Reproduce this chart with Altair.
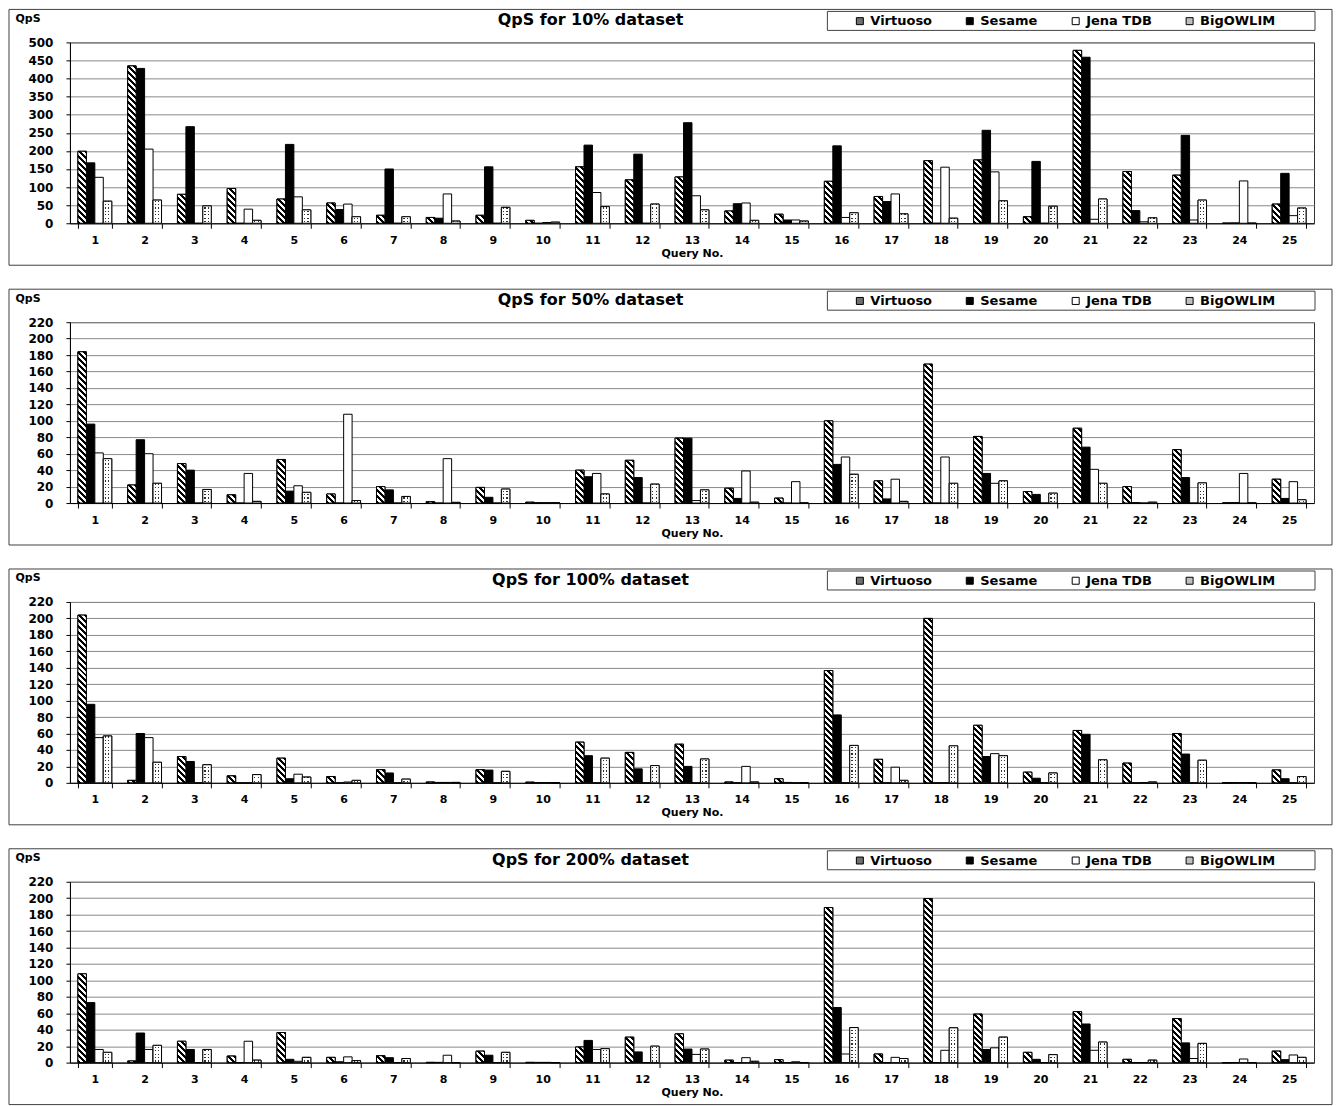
import altair as alt
import pandas as pd

queries = list(range(1, 26))
series = ["Virtuoso", "Sesame", "Jena TDB", "BigOWLIM"]

# ---- QpS for 10% dataset
virtuoso_10 = [199, 435, 80, 96, 67, 56, 22, 16, 22, 8, 156, 120, 128, 34, 25, 116, 74, 173, 175, 18, 478, 143, 133, 0, 53]
sesame_10 = [167, 428, 267, 0, 218, 38, 150, 14, 156, 0, 216, 191, 278, 54, 9, 214, 60, 0, 257, 171, 459, 35, 243, 1, 138]
jena_10 = [127, 205, 0, 39, 73, 53, 0, 81, 0, 2, 85, 0, 76, 56, 9, 16, 81, 155, 142, 0, 11, 4, 9, 117, 21]
bigowlim_10 = [61, 64, 48, 8, 37, 18, 18, 6, 44, 3, 46, 53, 37, 8, 6, 29, 26, 14, 62, 47, 67, 15, 64, 0, 42]

# ---- QpS for 50% dataset
virtuoso_50 = [184, 22, 48, 10, 53, 11, 20, 1.6, 19, 1, 40, 52, 79, 18, 6, 100, 27, 169, 81, 14, 91, 20, 65, 0, 29]
sesame_50 = [96, 77, 40, 0, 14.5, 0, 16, 0, 7, 0.5, 32, 31, 79, 5.6, 0, 47, 5, 0, 36, 10.5, 68, 0.5, 31, 0.5, 5.6]
jena_50 = [61, 60, 0, 36, 21, 108, 0, 54, 0, 0.5, 36, 0, 3, 39, 26, 56, 29, 56, 24, 0, 41, 0, 0, 36, 26]
bigowlim_50 = [54, 24, 16.5, 2, 13, 3, 8, 0.8, 17, 0.5, 11, 23, 16, 1, 0, 35, 2, 24, 27, 12, 24, 1, 24.5, 0, 4]

# ---- QpS for 100% dataset
virtuoso_100 = [204, 3, 32, 8.5, 30, 7.7, 16, 1, 16, 0.8, 49.5, 37, 47, 1, 5, 136.6, 28.6, 200, 70, 13, 63.7, 24, 60, 0.3, 15.7]
sesame_100 = [95.5, 60, 26, 0, 5, 0, 12, 0.5, 15.5, 0.3, 33, 17, 20, 0, 0.5, 82.6, 0, 0, 32, 5.6, 59, 0, 35, 0.3, 5]
jena_100 = [55, 55, 0, 0, 10.5, 1, 0, 0.5, 0, 0.3, 0, 0, 0, 20, 0, 0, 19, 0, 35.5, 0, 0, 0.3, 0, 0.3, 0]
bigowlim_100 = [57, 25, 22, 10, 7, 3, 4.5, 0.5, 14, 0, 30, 21, 29, 1, 0, 45.5, 3, 45, 33, 12, 28, 1, 27.5, 0, 7.6]

# ---- QpS for 200% dataset
virtuoso_200 = [108, 2, 26, 8, 36.6, 6.4, 8.4, 0.3, 14, 0.3, 19, 31, 35, 3, 3.6, 188.6, 10.5, 199.6, 59, 12.5, 62, 4, 53.6, 0, 14]
sesame_200 = [73, 36, 16, 0, 4, 1, 6, 0.3, 9, 0.3, 27, 13, 16.5, 0, 0, 67, 0, 0, 16, 4, 47, 0, 24, 0, 3.6]
jena_200 = [16, 16, 0, 26, 1.6, 7, 0, 9, 0, 0.3, 16, 0, 10, 6, 1, 10.5, 6.4, 15, 18, 0, 15, 0, 5, 4.4, 9.3]
bigowlim_200 = [12.5, 21, 16, 3, 6.4, 2.4, 5, 0, 12.5, 0, 17, 20, 16.5, 1.6, 0, 42.6, 5, 42.3, 31, 9.7, 25, 3, 23.4, 0, 6.4]

panels = [
    ("QpS for 10% dataset", 500, 50, [virtuoso_10, sesame_10, jena_10, bigowlim_10]),
    ("QpS for 50% dataset", 220, 20, [virtuoso_50, sesame_50, jena_50, bigowlim_50]),
    ("QpS for 100% dataset", 220, 20, [virtuoso_100, sesame_100, jena_100, bigowlim_100]),
    ("QpS for 200% dataset", 220, 20, [virtuoso_200, sesame_200, jena_200, bigowlim_200]),
]

FONT = "DejaVu Sans"
W, H = 1245, 181
P_IN, P_OUT = 0.32, 0.16
BW = W / 25 * (1 - P_IN) / 4  # pixel width of one bar


def stops_literal(period, d0, d1, length, dark, light, start=0.0):
    st = [(0.0, light)]
    k = 0
    while True:
        a = (start + k * period + d0) / length
        b = (start + k * period + d1) / length
        if a >= 1:
            break
        b = min(b, 1.0)
        st += [(a, light), (a, dark), (b, dark), (b, light)]
        k += 1
    st.append((1.0, light))
    return "[" + ",".join("{offset:%.5f,color:'%s'}" % (o, c) for o, c in st) + "]"


HP = 195.0   # hatch gradient length (px, in x-y measure)
DL = 190.0   # dot stripe gradient length (px)
HATCH_STOPS = stops_literal(6.0, 0.0, 3.0, HP, "#000000", "#ffffff")
DOT_STOPS = stops_literal(3.4, 1.0, 2.2, DL, "#303030", "#ffffff")

# vertical white columns with transparent gaps (make dots from stripes)
col_stops = [{"offset": 0.0, "color": "#ffffff"}]
xpos = 1.6
while xpos + 1.2 < BW:
    a, b = xpos / BW, (xpos + 1.2) / BW
    col_stops += [{"offset": a, "color": "#ffffff"}, {"offset": a, "color": "rgba(255,255,255,0)"},
                  {"offset": b, "color": "rgba(255,255,255,0)"}, {"offset": b, "color": "#ffffff"}]
    xpos += 3.4
col_stops.append({"offset": 1.0, "color": "#ffffff"})
COL_GRAD = {"gradient": "linear", "x1": 0, "y1": 0.5, "x2": 1, "y2": 0.5, "stops": col_stops}


def panel(title, ymax, ystep, vlists):
    rows = []
    for s, arr in zip(series, vlists):
        for q, v in zip(queries, arr):
            rows.append({"Query": q, "Server": s, "QpS": v})
    df = pd.DataFrame(rows)

    pxu = H / ymax
    h = f"max(datum.QpS*{pxu:.6f},0.5)"
    d = f"({BW * BW:.5f}+{h}*{h})"
    hatch_expr = ("{gradient:'linear',x1:0,y1:1,x2:" + f"{HP}*{BW:.5f}/{d}" +
                  ",y2:1-" + f"{HP}*{h}/{d}" + ",stops:" + HATCH_STOPS + "}")
    dot_expr = ("{gradient:'linear',x1:0.5,y1:1,x2:0.5,y2:1-" + f"{DL}/{h}" +
                ",stops:" + DOT_STOPS + "}")

    xscale = alt.Scale(domain=queries, paddingInner=P_IN, paddingOuter=P_OUT)
    yscale = alt.Scale(domain=[0, ymax], nice=False, zero=True)
    oscale = alt.Scale(domain=series, paddingInner=0, paddingOuter=0)

    xaxis = alt.Axis(labelAngle=0, tickBand="extent", tickSize=5, tickColor="black",
                     domainColor="black", labelPadding=6, labelFontSize=11, labelFontWeight="bold",
                     labelFont=FONT, labelColor="black", grid=False,
                     title="Query No.", titleY=30, titleBaseline="middle", titleFontSize=11,
                     titleFontWeight="bold", titleFont=FONT, titleColor="black")
    yaxis = alt.Axis(values=list(range(0, ymax + 1, ystep)), grid=True, gridColor="#8a8a8a",
                     domainColor="black", tickColor="black", tickSize=4, labelPadding=13,
                     labelFontSize=12, labelFontWeight="bold", labelFont=FONT, labelColor="black",
                     title="QpS", titleAngle=0, titleX=-55, titleY=-24, titleAlign="left",
                     titleBaseline="middle", titleFontSize=11, titleFontWeight="bold",
                     titleFont=FONT, titleColor="black")

    legend = alt.Legend(orient="none", legendX=784, legendY=-28, direction="horizontal", columns=4,
                        title=None, symbolType="square", symbolSize=49, symbolStrokeColor="black",
                        symbolStrokeWidth=1, labelFont=FONT, labelFontSize=13, labelFontWeight="bold",
                        labelColor="black", labelOffset=4, columnPadding=31, padding=0)

    enc = dict(
        x=alt.X("Query:O", scale=xscale, axis=xaxis),
        xOffset=alt.XOffset("Server:N", scale=oscale),
        y=alt.Y("QpS:Q", scale=yscale, axis=yaxis),
    )

    base = alt.Chart(df).mark_bar(stroke="black", strokeWidth=1).encode(
        fill=alt.Fill("Server:N", scale=alt.Scale(domain=series,
                      range=["#707070", "#000000", "#ffffff", "#c0c0c0"]), legend=legend),
        **enc,
    )

    def overlay(name):
        return alt.Chart(df).transform_filter(alt.datum.Server == name)

    hatch = overlay("Virtuoso").transform_calculate(grad=hatch_expr).mark_bar(
        stroke="black", strokeWidth=1).encode(fill=alt.Fill("grad:N", scale=None), **enc)
    dots = overlay("BigOWLIM").transform_calculate(grad=dot_expr).mark_bar(
        strokeWidth=0).encode(fill=alt.Fill("grad:N", scale=None), **enc)
    cols = overlay("BigOWLIM").mark_bar(stroke="black", strokeWidth=1).encode(
        fill=alt.value(COL_GRAD), **enc)

    one = pd.DataFrame({"t": [title]})
    frame = alt.Chart(one).mark_rect(filled=False, stroke="#404040", strokeWidth=1).encode(
        x=alt.value(-61), x2=alt.value(W + 18), y=alt.value(-33), y2=alt.value(H + 42))
    lbox = alt.Chart(one).mark_rect(filled=False, stroke="#404040", strokeWidth=1).encode(
        x=alt.value(758), x2=alt.value(W + 1), y=alt.value(-31), y2=alt.value(-12))
    ttl = alt.Chart(one).mark_text(font=FONT, fontSize=16, fontWeight="bold", align="center",
                                   baseline="middle", color="black").encode(
        text="t:N", x=alt.value(521), y=alt.value(-22))

    return alt.layer(frame, lbox, base, hatch, dots, cols, ttl).properties(width=W, height=H)


charts = [panel(*p) for p in panels]
chart = alt.vconcat(*charts, spacing=22).resolve_scale(fill="independent").properties(
    padding={"left": 0, "top": 0, "right": 0, "bottom": 0}, background="white"
).configure_view(stroke="#303030", strokeWidth=1)

chart.save("out.html", embed_options={"renderer": "svg", "actions": False})
